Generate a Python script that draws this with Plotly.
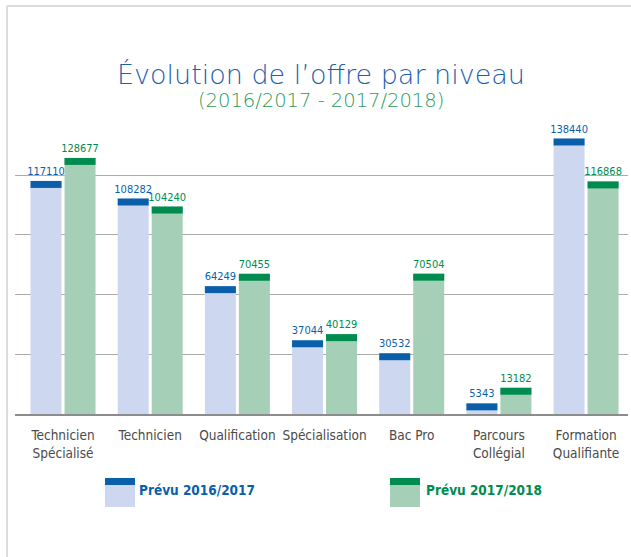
import plotly.graph_objects as go

categories = ["Technicien<br>Spécialisé", "Technicien", "Qualification", "Spécialisation",
              "Bac Pro", "Parcours<br>Collégial", "Formation<br>Qualifiante"]
prevu_2016 = [117110, 108282, 64249, 37044, 30532, 5343, 138440]
prevu_2017 = [128677, 104240, 70455, 40129, 70504, 13182, 116868]
series_names = ["Prévu 2016/2017", "Prévu 2017/2018"]

W, H = 631, 557
ML, MR, MT, MB = 15, 3, 116, 143
PL, PR = ML, W - MR
PT, PB = MT, H - MB
YMAX = 149750
CAP = 3500  # thickness of the dark top band (style), in data units

LIGHT_BLUE, DARK_BLUE = "#cdd8f0", "#0a5fab"
LIGHT_GREEN, DARK_GREEN = "#a5cfb7", "#008c4f"
NARROW = "DejaVu Sans Condensed, Liberation Sans Narrow, sans-serif"
THIN = "DejaVu Sans ExtraLight, DejaVu Sans, sans-serif"


def px2x(px):
    return (px - PL) / (PR - PL)


def py2y(py):
    return (PB - py) / (PB - PT)


fig = go.Figure()

for name, vals, light, dark, grp in [
    (series_names[0], prevu_2016, LIGHT_BLUE, DARK_BLUE, "a"),
    (series_names[1], prevu_2017, LIGHT_GREEN, DARK_GREEN, "b"),
]:
    fig.add_trace(go.Bar(
        x=categories, y=vals, name=name, offsetgroup=grp,
        marker=dict(color=light, line=dict(width=0)),
        showlegend=False, hoverinfo="x+y",
    ))
    fig.add_trace(go.Bar(
        x=categories, y=[CAP] * len(vals), base=[v - CAP for v in vals],
        name=name, offsetgroup=grp,
        marker=dict(color=dark, line=dict(width=0)),
        text=[str(v) for v in vals], textposition="outside",
        constraintext="none",
        textfont=dict(family=NARROW, size=11, color=dark),
        cliponaxis=False, showlegend=False, hoverinfo="skip",
    ))

fig.update_layout(
    width=W, height=H,
    margin=dict(l=ML, r=MR, t=MT, b=MB, autoexpand=False),
    paper_bgcolor="white", plot_bgcolor="white",
    barmode="group", bargap=0.22, bargroupgap=0.088,
    showlegend=False,
    xaxis=dict(
        type="category", range=[-0.551, 6.481],
        showline=True, linecolor="#8c8c8c", linewidth=2,
        ticks="", showgrid=False, ticklabelstandoff=8, tickangle=0,
        tickfont=dict(family=NARROW, size=13.5, color="#4a4a4a"),
    ),
    yaxis=dict(
        range=[0, YMAX], dtick=30000, showticklabels=False,
        showgrid=True, gridcolor="#ababab", gridwidth=1.3,
        zeroline=False, showline=False, ticks="",
    ),
)

shapes = []
annotations = []

# frame lines (left and top)
shapes.append(dict(type="line", xref="paper", yref="paper",
                   x0=px2x(7), x1=px2x(7), y0=py2y(6), y1=py2y(H),
                   line=dict(color="#dcdcdc", width=2)))
shapes.append(dict(type="line", xref="paper", yref="paper",
                   x0=px2x(7), x1=px2x(W), y0=py2y(6), y1=py2y(6),
                   line=dict(color="#dcdcdc", width=2)))

# title / subtitle
annotations.append(dict(
    text="Évolution de l’offre par niveau", xref="paper", yref="paper",
    x=px2x(321), y=py2y(75), xanchor="center", yanchor="middle", showarrow=False,
    font=dict(family=THIN, size=27, color="#1a60ae", weight=200),
))
annotations.append(dict(
    text="(2016/2017 - 2017/2018)", xref="paper", yref="paper",
    x=px2x(321), y=py2y(101), xanchor="center", yanchor="middle", showarrow=False,
    font=dict(family=THIN, size=19.5, color="#2b9a5d", weight=200),
))

# legend (custom two-tone swatches)
for name, light, dark, x0, tx in [
    (series_names[0], LIGHT_BLUE, DARK_BLUE, 105, 137),
    (series_names[1], LIGHT_GREEN, DARK_GREEN, 390, 424),
]:
    shapes.append(dict(type="rect", xref="paper", yref="paper",
                       x0=px2x(x0), x1=px2x(x0 + 30), y0=py2y(507), y1=py2y(485),
                       fillcolor=light, line=dict(width=0)))
    shapes.append(dict(type="rect", xref="paper", yref="paper",
                       x0=px2x(x0), x1=px2x(x0 + 30), y0=py2y(485), y1=py2y(478),
                       fillcolor=dark, line=dict(width=0)))
    annotations.append(dict(
        text=name, xref="paper", yref="paper", x=px2x(tx), y=py2y(490),
        xanchor="left", yanchor="middle", showarrow=False,
        font=dict(family=NARROW, size=13.5, color=dark, weight="bold"),
    ))

fig.update_layout(shapes=shapes, annotations=annotations)

fig.write_html(
    "out.html",
    config={"displayModeBar": False},
    post_script="document.body.style.margin='0';document.body.style.padding='0';",
)
